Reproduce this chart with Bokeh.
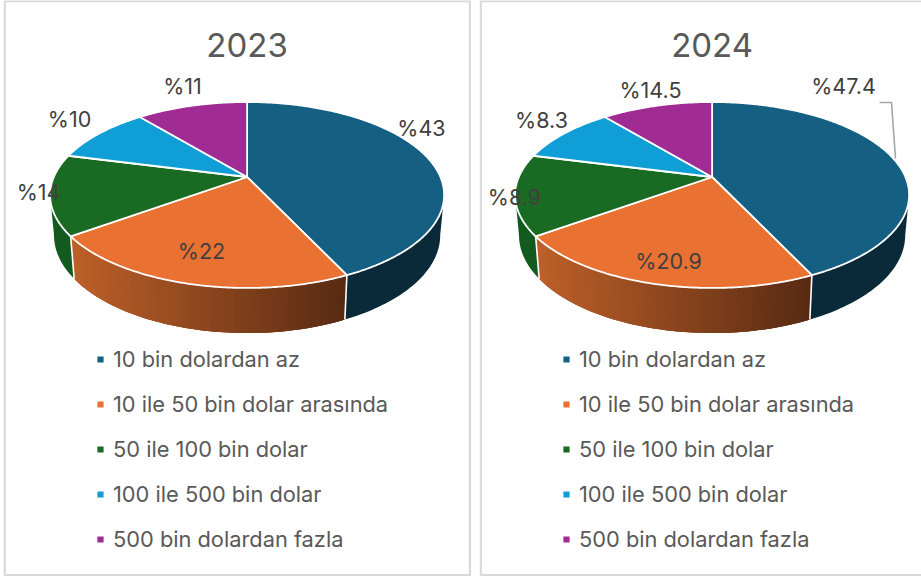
import numpy as np
from bokeh.embed import file_html
from bokeh.layouts import row
from bokeh.models import Legend, LegendItem, Range1d
from bokeh.plotting import figure
from bokeh.resources import INLINE
from bokeh.core.properties import value

categories = ["10 bin dolardan az", "10 ile 50 bin dolar arasında", "50 ile 100 bin dolar",
              "100 ile 500 bin dolar", "500 bin dolardan fazla"]
# Slice sizes as drawn in the picture: both pies have the same slice geometry.
slices_2023 = [43, 22, 14, 10, 11]
slices_2024 = [43, 22, 14, 10, 11]
labels_2023 = ["%43", "%22", "%14", "%10", "%11"]
labels_2024 = ["%47.4", "%20.9", "%8.9", "%8.3", "%14.5"]
top_colors = ["#156082", "#E97132", "#196B24", "#0F9ED5", "#A02B93"]
wall_left = ["#0A2A39", "#BE6029", "#135A1E", "#0A6A90", "#6A1D62"]
wall_right = ["#0A2A39", "#582A12", "#135A1E", "#0A6A90", "#6A1D62"]

FONT = "Inter"
TILT = 0.1935
A, B = 89.5, 193.3
WALL_X, WALL_Y, WALL_D = 0.98, 1.05, 39.5
CY = 176.5
FRONT = (101.2, 258.8)


def rim(cx, theta_deg, lower=False):
    t = np.radians(theta_deg)
    u, v = np.sin(t), np.cos(t)
    d = 1 + TILT * v
    X, Y = B * u / d, A * v / d
    if lower:
        X, Y = X * WALL_X, Y * WALL_Y - WALL_D
    return cx + X, CY - Y


def hex_rgb(h):
    return np.array([int(h[i:i + 2], 16) for i in (1, 3, 5)], dtype=float)


def panel(xr, cx, title, slices, labels, label_pos, legend_x, frame_right):
    w = xr[1] - xr[0]
    p = figure(width=w, height=576, x_range=Range1d(*xr), y_range=Range1d(576, 0),
               toolbar_location=None, output_backend="svg", min_border=0)
    p.axis.visible = False
    p.grid.visible = False
    p.outline_line_color = None
    p.background_fill_color = "white"
    p.border_fill_color = "white"

    p.quad(left=[xr[0] + 1.2], right=[frame_right], top=[0.5], bottom=[574.8], fill_alpha=0,
           line_color="#D9D9D9", line_width=2.4)

    edges = np.concatenate([[0], np.cumsum(slices)]) / sum(slices) * 360
    # side wall: a flat base per slice, then overlapping strips where the shade changes
    for i in range(len(slices)):
        a, b = max(edges[i], FRONT[0]), min(edges[i + 1], FRONT[1])
        if a >= b:
            continue
        th = np.linspace(a, b, int((b - a) / 1.2) + 2)
        xt, yt = rim(cx, th)
        xl, yl = rim(cx, th, True)
        base = (hex_rgb(wall_left[i]) + hex_rgb(wall_right[i])) / 2
        base_col = "#%02x%02x%02x" % tuple(int(round(q)) for q in base)
        p.patch(np.r_[xt, xl[::-1]], np.r_[yt, yl[::-1]], fill_color=base_col, line_color=None)
        if wall_left[i] != wall_right[i]:
            xs, ys, cols = [], [], []
            for j in range(len(th) - 1, 0, -1):
                s = (xt[j] + xt[j - 1]) / 2
                s = (s - xt[-1]) / (xt[0] - xt[-1])
                k = max(j - 2, 0)
                xs.append([xt[j], xt[k], xl[k], xl[j]])
                ys.append([yt[j], yt[k], yl[k], yl[j]])
                c = hex_rgb(wall_left[i]) * (1 - s) + hex_rgb(wall_right[i]) * s
                cols.append("#%02x%02x%02x" % tuple(int(round(q)) for q in c))
            p.patches(xs, ys, fill_color=cols, line_color=None)
    # seams on the wall
    for e in edges[1:-1]:
        if FRONT[0] < e < FRONT[1]:
            x0, y0 = rim(cx, e)
            x1, y1 = rim(cx, e, True)
            p.line([x0, x1], [y0, y1], line_color="white", line_width=1.6)

    # top face
    items = []
    for i in range(len(slices)):
        th = np.linspace(edges[i], edges[i + 1], int(edges[i + 1] - edges[i]) * 2 + 2)
        x, y = rim(cx, th)
        r = p.patch(np.r_[cx, x], np.r_[CY, y], fill_color=top_colors[i], line_color="white",
                    line_width=1.8, line_join="round")
        items.append(LegendItem(label=categories[i], renderers=[r]))

    p.text(x=[cx], y=[44], text=[title], text_font=value(FONT), text_font_size="33px",
           text_color="#595959", text_align="center", text_baseline="middle")
    p.text(x=[q[0] for q in label_pos], y=[q[1] for q in label_pos], text=labels,
           text_font=value(FONT), text_font_size="21.5px", text_color="#404040",
           text_align="center", text_baseline="middle")

    leg = Legend(items=items, location=(legend_x, 24), orientation="vertical",
                 background_fill_alpha=0, border_line_color=None, padding=0, margin=0,
                 spacing=19, glyph_width=10, glyph_height=10, label_height=20, label_width=10,
                 label_standoff=8, label_text_font=FONT, label_text_font_size="21.8px",
                 label_text_color="#595959", label_text_baseline="middle")
    p.add_layout(leg, "center")
    return p


pos_2023 = [(421, 127), (201, 250), (38, 191), (69, 118), (182, 85)]
pos_2024 = [(843, 85), (668, 260), (514, 196), (541, 119), (650, 89)]

p1 = panel((3, 471), 246.6, "2023", slices_2023, labels_2023, pos_2023, 92, 469.5)
p2 = panel((479, 921), 711.6, "2024", slices_2024, labels_2024, pos_2024, 82, 930)
p2.line([879, 891, 895], [102, 102, 158], line_color="#A6A6A6", line_width=1.6)

layout = row(p1, p2, spacing=8, styles={"position": "absolute", "left": "3px", "top": "0px"})
open("out.html", "w").write(file_html(layout, INLINE))
